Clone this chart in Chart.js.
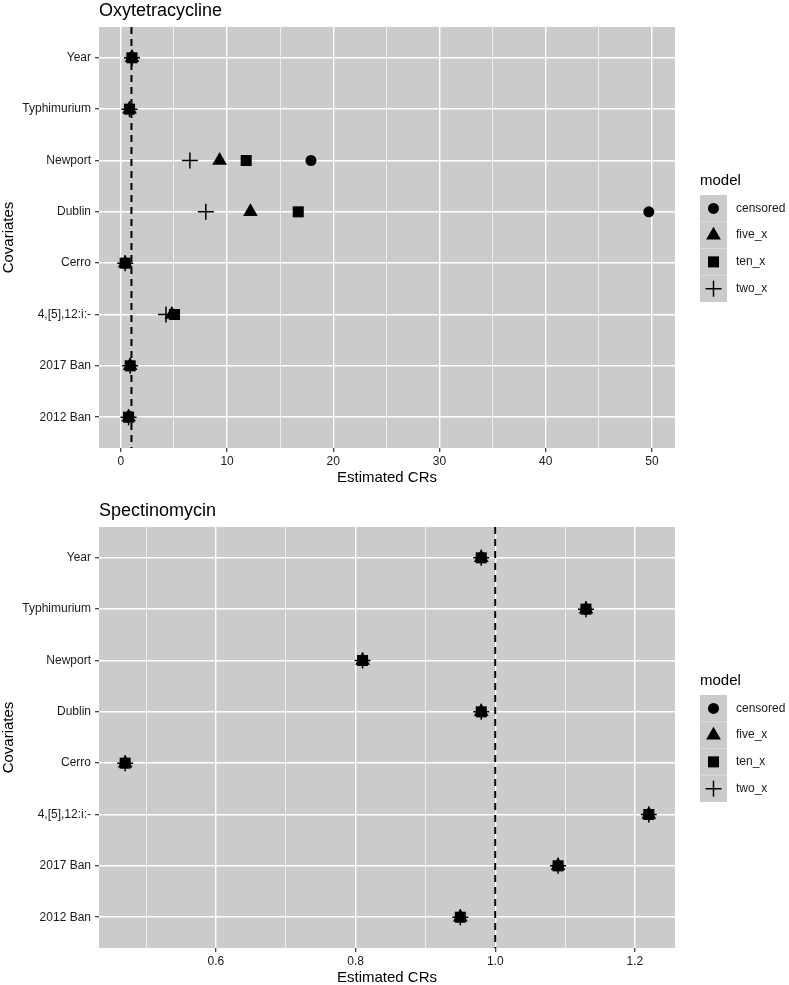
<!DOCTYPE html>
<html>
<head>
<meta charset="utf-8">
<script src="https://cdn.jsdelivr.net/npm/chart.js@4/dist/chart.umd.min.js"></script>
<style>
  html, body { margin:0; padding:0; background:#fff; overflow:hidden; }
  .panel { position:absolute; left:0; width:789px; height:500px; }
</style>
</head>
<body>
<div class="panel" style="top:0"><canvas id="oxy" width="789" height="500"></canvas></div>
<div class="panel" style="top:500px"><canvas id="spec" width="789" height="500"></canvas></div>
<script>
// categories, top to bottom
const covariates = ['Year', 'Typhimurium', 'Newport', 'Dublin', 'Cerro', '4,[5],12:i:-', '2017 Ban', '2012 Ban'];
const models = ['censored', 'five_x', 'ten_x', 'two_x'];
const shapes = ['circle', 'triangle', 'rect', 'cross'];

// Oxytetracycline estimated CRs per model
const oxyCensored = [1.05, 0.82, 17.9, 49.7, 0.41, 5.0, 0.88, 0.73];
const oxyFiveX    = [1.05, 0.82, 9.3, 12.2, 0.41, 4.8, 0.88, 0.73];
const oxyTenX     = [1.05, 0.82, 11.8, 16.7, 0.41, 5.05, 0.88, 0.73];
const oxyTwoX     = [1.05, 0.82, 6.5, 8.0, 0.41, 4.25, 0.88, 0.73];

// Spectinomycin estimated CRs per model (all models coincide)
const specCensored = [0.98, 1.13, 0.81, 0.98, 0.47, 1.22, 1.09, 0.95];
const specFiveX    = [0.98, 1.13, 0.81, 0.98, 0.47, 1.22, 1.09, 0.95];
const specTenX     = [0.98, 1.13, 0.81, 0.98, 0.47, 1.22, 1.09, 0.95];
const specTwoX     = [0.98, 1.13, 0.81, 0.98, 0.47, 1.22, 1.09, 0.95];

// x-axis ticks
const oxyMajor  = [0, 10, 20, 30, 40, 50];
const oxyMinor  = [5, 15, 25, 35, 45];
const specMajor = [0.6, 0.8, 1.0, 1.2];
const specMinor = [0.5, 0.7, 0.9, 1.1];

const refLine = 1;

const FONT = '"Liberation Sans", Arial, Helvetica, sans-serif';
const PANEL_BG = '#cbcbcb';
const TEXT = '#1a1a1a';

const markerSize = {
  circle:   { r: 5.5, bw: 0 },
  triangle: { r: 8.5, bw: 0 },
  rect:     { r: 7.8, bw: 0 },
  cross:    { r: 8,   bw: 1.5 }
};

Chart.defaults.font.family = FONT;

// grey panel, title and ggplot-like legend
const ggPanel = {
  id: 'ggPanel',
  beforeDraw(chart) {
    const { ctx, chartArea: a } = chart;
    ctx.save();
    ctx.fillStyle = PANEL_BG;
    ctx.fillRect(a.left, a.top, a.right - a.left, a.bottom - a.top);
    ctx.restore();
  },
  afterDraw(chart, args, opts) {
    const { ctx, chartArea: a } = chart;
    ctx.save();
    ctx.fillStyle = '#000';
    ctx.font = '18px ' + FONT;
    ctx.textBaseline = 'middle';
    ctx.textAlign = 'left';
    ctx.fillText(opts.title, a.left, 11);

    // legend
    const lx = a.right + 25, keyW = 27, keyH = 26.75, top = 195;
    ctx.font = '15px ' + FONT;
    ctx.fillText('model', lx, 181);
    ctx.fillStyle = PANEL_BG;
    ctx.fillRect(lx, top, keyW, keyH * models.length);
    ctx.strokeStyle = 'rgba(255,255,255,0.35)';
    ctx.lineWidth = 1;
    for (let i = 1; i < models.length; i++) {
      ctx.beginPath();
      ctx.moveTo(lx, top + keyH * i);
      ctx.lineTo(lx + keyW, top + keyH * i);
      ctx.stroke();
    }
    ctx.font = '12px ' + FONT;
    models.forEach((m, i) => {
      const cy = top + keyH * (i + 0.5);
      const s = markerSize[shapes[i]];
      ctx.fillStyle = '#000';
      ctx.strokeStyle = '#000';
      ctx.lineWidth = s.bw;
      Chart.helpers.drawPoint(ctx, { pointStyle: shapes[i], radius: s.r, borderWidth: s.bw, rotation: 0 }, lx + keyW / 2, cy);
      ctx.fillStyle = TEXT;
      ctx.fillText(m, lx + keyW + 9, cy);
    });
    ctx.restore();
  }
};

function near(list, v) {
  return list.some(t => Math.abs(t - v) < 1e-9);
}

function makePanel(id, title, series, major, minor, decimals) {
  const all = series.flat();
  const lo = Math.min(...all), hi = Math.max(...all);
  const pad = (hi - lo) * 0.05;

  const datasets = series.map((vals, k) => ({
    label: models[k],
    data: vals.map((v, i) => ({ x: v, y: i })),
    pointStyle: shapes[k],
    pointRadius: markerSize[shapes[k]].r,
    pointBorderWidth: markerSize[shapes[k]].bw,
    backgroundColor: '#000',
    borderColor: '#000',
    order: 1
  }));
  datasets.push({
    label: 'ref',
    data: [{ x: refLine, y: -0.6 }, { x: refLine, y: covariates.length - 0.4 }],
    showLine: true,
    borderColor: '#000',
    borderWidth: 2,
    borderDash: [7, 5],
    pointRadius: 0,
    order: 0
  });

  const ticksAll = major.concat(minor).sort((a, b) => a - b);

  return new Chart(document.getElementById(id), {
    type: 'scatter',
    data: { datasets },
    plugins: [ggPanel],
    options: {
      responsive: false,
      animation: false,
      events: [],
      layout: { padding: { left: 0, top: 27, right: 114, bottom: 0 } },
      plugins: {
        legend: { display: false },
        tooltip: { enabled: false },
        ggPanel: { title }
      },
      scales: {
        x: {
          type: 'linear',
          min: lo - pad,
          max: hi + pad,
          afterBuildTicks: s => { s.ticks = ticksAll.map(v => ({ value: v })); },
          afterFit: s => { s.height = 52; },
          border: { display: false },
          grid: {
            color: '#ffffff',
            lineWidth: c => near(major, c.tick.value) ? 1.4 : 0.7,
            tickColor: c => near(major, c.tick.value) ? '#333333' : 'rgba(0,0,0,0)',
            tickLength: 4,
            tickWidth: 1.2
          },
          ticks: {
            autoSkip: false,
            maxRotation: 0,
            padding: 2,
            color: TEXT,
            font: { size: 12 },
            callback: v => near(major, v) ? v.toFixed(decimals) : ''
          },
          title: {
            display: true,
            text: 'Estimated CRs',
            color: '#000',
            font: { size: 15 },
            padding: { top: 0, bottom: 13.5 }
          }
        },
        y: {
          type: 'linear',
          reverse: true,
          min: -0.6,
          max: covariates.length - 0.4,
          afterBuildTicks: s => { s.ticks = covariates.map((c, i) => ({ value: i })); },
          afterFit: s => { s.width = 99; },
          border: { display: false },
          grid: {
            color: '#ffffff',
            lineWidth: 1.4,
            tickColor: '#333333',
            tickLength: 4,
            tickWidth: 1.2
          },
          ticks: {
            autoSkip: false,
            padding: 4,
            color: TEXT,
            font: { size: 12 },
            callback: v => covariates[v]
          },
          title: {
            display: true,
            text: 'Covariates',
            color: '#000',
            font: { size: 15 },
            padding: { top: 0, bottom: 0 }
          }
        }
      }
    }
  });
}

makePanel('oxy', 'Oxytetracycline', [oxyCensored, oxyFiveX, oxyTenX, oxyTwoX], oxyMajor, oxyMinor, 0);
makePanel('spec', 'Spectinomycin', [specCensored, specFiveX, specTenX, specTwoX], specMajor, specMinor, 1);
</script>
</body>
</html>
